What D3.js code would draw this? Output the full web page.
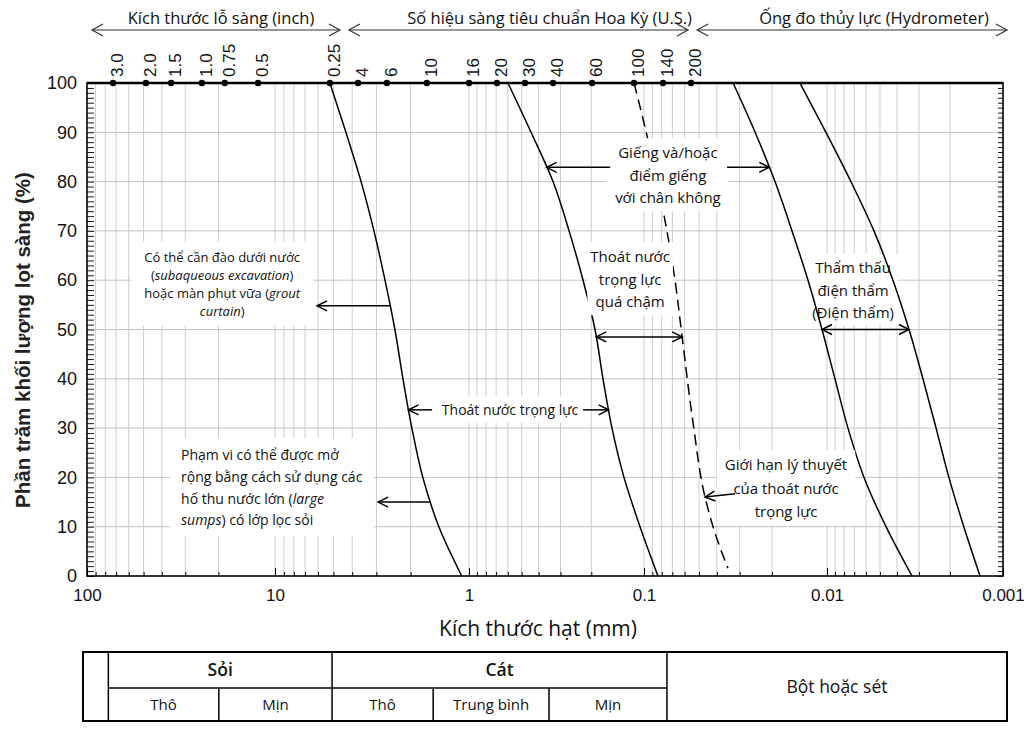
<!DOCTYPE html>
<html>
<head>
<meta charset="utf-8">
<script src="https://cdn.jsdelivr.net/npm/d3@7"></script>
<style>
  body { margin: 0; background: #fff; }
  svg { display: block; }
</style>
</head>
<body>
<div id="chart"></div>
<script>
// ---- data ----
const yTicks = [0, 10, 20, 30, 40, 50, 60, 70, 80, 90, 100];
const xTickValues = [100, 10, 1, 0.1, 0.01, 0.001];
const xTickLabels = ['100', '10', '1', '0.1', '0.01', '0.001'];

// sieve markers on the top edge (label, grain size in mm where the dot sits)
const sieveLabels = ['3.0', '2.0', '1.5', '1.0', '0.75', '0.5', '0.25', '4', '6', '10', '16', '20', '30', '40', '60', '100', '140', '200'];
const sieveMm = [72.7, 48.6, 35.7, 24.5, 18.5, 12.3, 5.21, 3.73, 2.65, 1.65, 1.0, 0.692, 0.479, 0.331, 0.198, 0.114, 0.0787, 0.0553];

// boundary curves: [grain size mm, percent passing]
const curveGravel = [[5.21, 100], [4.31, 90], [3.60, 80], [3.09, 70], [2.71, 60], [2.41, 50], [2.19, 40], [1.97, 30], [1.73, 20], [1.43, 10], [1.09, 0]];
const curveSand = [[0.599, 100], [0.442, 90], [0.331, 80], [0.268, 70], [0.223, 60], [0.1905, 50], [0.1715, 40], [0.1524, 30], [0.1301, 20], [0.1054, 10], [0.0839, 0]];
const curveLimit = [[0.114, 100], [0.101, 92.5], [0.0787, 74.2], [0.0677, 60], [0.0619, 48.5], [0.0539, 31], [0.0464, 16], [0.0409, 8.7], [0.0348, 1.6]];
const curveSilt = [[0.0326, 100], [0.0247, 90], [0.01924, 80], [0.01553, 70], [0.01270, 60], [0.01065, 50], [0.00901, 40], [0.00760, 30], [0.00616, 20], [0.00462, 10], [0.00329, 0]];
const curveClay = [[0.01405, 100], [0.01013, 90], [0.00731, 80], [0.00541, 70], [0.00422, 60], [0.00342, 50], [0.00285, 40], [0.00240, 30], [0.00203, 20], [0.00167, 10], [0.00135, 0]];

// classification table under the chart
const soilGroups = ['Sỏi', 'Cát', 'Bột hoặc sét'];
const groupBounds = [[77, 5.08], [5.08, 0.0749], [0.0749, 0.001]];
const subClasses = ['Thô', 'Mịn', 'Thô', 'Trung bình', 'Mịn'];
const subBounds = [[77, 19.9], [19.9, 5.08], [5.08, 1.53], [1.53, 0.349], [0.349, 0.0749]];

// ---- setup ----
const W = 1024, H = 731;
const svg = d3.select('#chart').append('svg').attr('width', W).attr('height', H);

// log axis: each decade placed where it sits in the picture
const xLog = d3.scaleLinear().domain([2, 1, 0, -1, -2, -3]).range([87, 275, 469, 644, 827, 1003]);
const x = v => xLog(Math.log10(v));
const y = d3.scaleLinear().domain([0, 100]).range([576, 83]);

const AXIS_FONT = "'Liberation Sans', Arial, sans-serif";
const TEXT_FONT = "'Open Sans', 'Noto Sans', sans-serif";

// markers
const defs = svg.append('defs');
function addMarker(id, len, half, sw, color) {
  defs.append('marker')
    .attr('id', id)
    .attr('viewBox', `${-len - 2} ${-half - 2} ${len + 4} ${2 * half + 4}`)
    .attr('refX', 0).attr('refY', 0)
    .attr('markerWidth', len + 4).attr('markerHeight', 2 * half + 4)
    .attr('markerUnits', 'userSpaceOnUse')
    .attr('orient', 'auto-start-reverse')
    .append('path')
    .attr('d', `M${-len},${-half}L0,0L${-len},${half}`)
    .attr('fill', 'none')
    .attr('stroke', color)
    .attr('stroke-width', sw);
}
addMarker('head', 10, 5, 1.5, '#000');
addMarker('hhead', 11, 6, 1.2, '#333');

// ---- grid ----
const minorX = [];
for (let e = -3; e <= 1; e++) {
  for (let k = 1; k <= 9; k++) minorX.push(+(k * Math.pow(10, e)).toPrecision(3));
}
const gridX = minorX.filter(v => v > 0.001 && v < 100);

const grid = svg.append('g');
grid.selectAll('line.vx')
  .data(gridX)
  .enter().append('line')
  .attr('x1', d => x(d)).attr('x2', d => x(d))
  .attr('y1', y(100)).attr('y2', y(0))
  .attr('stroke', '#cdcdcd').attr('stroke-width', 1);
grid.selectAll('line.hy')
  .data(yTicks.filter(d => d > 0 && d < 100))
  .enter().append('line')
  .attr('x1', x(100)).attr('x2', x(0.001))
  .attr('y1', d => y(d)).attr('y2', d => y(d))
  .attr('stroke', '#c4c4c4').attr('stroke-width', 1);

const boxLow = svg.append('g');
const curvesG = svg.append('g');
const boxHigh = svg.append('g');
const arrowG = svg.append('g');
const textG = svg.append('g');

// ---- axes ----
const minorTicksX = svg.append('g')
  .attr('transform', `translate(0,${y(0)})`)
  .call(d3.axisBottom(xLog).tickValues(minorX.map(v => Math.log10(v))).tickSize(-4).tickFormat(''));
minorTicksX.select('.domain').remove();

const axisX = svg.append('g')
  .attr('transform', `translate(0,${y(0)})`)
  .call(d3.axisBottom(xLog)
    .tickValues(xTickValues.map(v => Math.log10(v)))
    .tickSize(-8).tickPadding(13)
    .tickFormat((d, i) => xTickLabels[i]));
axisX.select('.domain').remove();
axisX.selectAll('text').attr('font-size', 17).attr('font-family', AXIS_FONT).attr('fill', '#111');

const percentMinor = d3.range(0, 101, 1);
const leftMinor = svg.append('g')
  .attr('transform', `translate(${x(100)},0)`)
  .call(d3.axisLeft(y).tickValues(percentMinor).tickSize(-7).tickFormat(''));
leftMinor.select('.domain').remove();
leftMinor.selectAll('line').attr('stroke-width', 0.9);

const rightMinor = svg.append('g')
  .attr('transform', `translate(${x(0.001)},0)`)
  .call(d3.axisRight(y).tickValues(percentMinor).tickSize(-5).tickFormat(''));
rightMinor.select('.domain').remove();
rightMinor.selectAll('line').attr('stroke-width', 0.9);

const axisY = svg.append('g')
  .attr('transform', `translate(${x(100)},0)`)
  .call(d3.axisLeft(y).tickValues(yTicks).tickSize(0).tickPadding(10));
axisY.select('.domain').remove();
axisY.selectAll('text').attr('font-size', 18).attr('font-family', AXIS_FONT).attr('fill', '#111');

// frame
svg.append('rect')
  .attr('x', x(100)).attr('y', y(100))
  .attr('width', x(0.001) - x(100)).attr('height', y(0) - y(100))
  .attr('fill', 'none').attr('stroke', '#000').attr('stroke-width', 1.6);
svg.append('line')
  .attr('x1', x(100)).attr('x2', x(0.001))
  .attr('y1', y(100)).attr('y2', y(100))
  .attr('stroke', '#000').attr('stroke-width', 2.6);

// axis titles
svg.append('text')
  .attr('transform', `translate(23,340) rotate(-90)`)
  .attr('text-anchor', 'middle')
  .attr('dy', '0.35em')
  .attr('font-family', AXIS_FONT).attr('font-size', 20.5).attr('font-weight', 'bold')
  .attr('fill', '#222')
  .text('Phần trăm khối lượng lọt sàng (%)');

svg.append('text')
  .attr('x', 538).attr('y', 636)
  .attr('text-anchor', 'middle')
  .attr('font-family', TEXT_FONT).attr('font-size', 21)
  .attr('fill', '#111')
  .text('Kích thước hạt (mm)');

// ---- sieve markers ----
const sieve = svg.append('g');
sieve.selectAll('circle')
  .data(sieveMm)
  .enter().append('circle')
  .attr('cx', d => x(d)).attr('cy', y(100)).attr('r', 3.2)
  .attr('fill', '#000');
sieve.selectAll('text')
  .data(sieveMm)
  .enter().append('text')
  .attr('transform', d => `translate(${x(d) + 4},77) rotate(-90)`)
  .attr('dy', '0.35em')
  .attr('font-family', AXIS_FONT).attr('font-size', 17)
  .attr('fill', '#111')
  .text((d, i) => sieveLabels[i]);

// header ranges
const headers = [
  { label: 'Kích thước lỗ sàng (inch)', x1: x(100) + 5, x2: x(sieveMm[6]) + 10, tx: 221, anchor: 'middle' },
  { label: 'Số hiệu sàng tiêu chuẩn Hoa Kỳ (U.S.)', x1: x(sieveMm[6]) + 19, x2: x(sieveMm[17]) - 3, tx: 692, anchor: 'end' },
  { label: 'Ống đo thủy lực (Hydrometer)', x1: x(sieveMm[17]) + 6, x2: x(0.001) + 4, tx: 989, anchor: 'end' }
];
const hdr = svg.append('g');
hdr.selectAll('line')
  .data(headers)
  .enter().append('line')
  .attr('x1', d => d.x1).attr('x2', d => d.x2)
  .attr('y1', 30).attr('y2', 30)
  .attr('stroke', '#333').attr('stroke-width', 1.1)
  .attr('marker-start', 'url(#hhead)')
  .attr('marker-end', 'url(#hhead)');
hdr.selectAll('text')
  .data(headers)
  .enter().append('text')
  .attr('x', d => d.tx).attr('y', 24)
  .attr('text-anchor', d => d.anchor)
  .attr('font-family', TEXT_FONT).attr('font-size', 16.5)
  .attr('fill', '#111')
  .text(d => d.label);

// ---- curves ----
const line = d3.line()
  .x(d => x(d[0]))
  .y(d => y(d[1]))
  .curve(d3.curveMonotoneY);

const solidCurves = [curveGravel, curveSand, curveSilt, curveClay];
curvesG.selectAll('path.solid')
  .data(solidCurves)
  .enter().append('path')
  .attr('d', line)
  .attr('fill', 'none').attr('stroke', '#000').attr('stroke-width', 1.5);
curvesG.append('path')
  .datum(curveLimit)
  .attr('d', line)
  .attr('fill', 'none').attr('stroke', '#000').attr('stroke-width', 1.5)
  .attr('stroke-dasharray', '11,6');

// size on a curve at a given percent passing
function xAt(curve, p) {
  for (let i = 0; i < curve.length - 1; i++) {
    const [m0, p0] = curve[i], [m1, p1] = curve[i + 1];
    if ((p0 - p) * (p1 - p) <= 0) {
      const t = (p - p0) / (p1 - p0);
      return Math.pow(10, Math.log10(m0) + t * (Math.log10(m1) - Math.log10(m0)));
    }
  }
  return curve[curve.length - 1][0];
}
const pos = (ref, p) => Array.isArray(ref) ? xAt(ref, p) : ref;

// ---- annotations ----
const arrows = [
  { p: 54.8, tail: curveGravel, head: 6.07 },
  { p: 15.0, tail: curveGravel, head: 2.94 },
  { p: 33.7, tail: 1.55, head: curveGravel },
  { p: 33.7, tail: 0.223, head: curveSand },
  { p: 82.9, tail: 0.156, head: curveSand },
  { p: 82.9, tail: 0.0352, head: curveSilt },
  { p: 48.5, tail: curveSand, head: curveLimit, both: true },
  { p: 50.0, tail: curveSilt, head: curveClay, both: true },
  { p: 16.0, tailP: 16.7, tail: 0.0318, head: curveLimit }
];
arrowG.selectAll('line')
  .data(arrows)
  .enter().append('line')
  .attr('x1', d => x(pos(d.tail, d.tailP || d.p)))
  .attr('y1', d => y(d.tailP || d.p))
  .attr('x2', d => x(pos(d.head, d.p)))
  .attr('y2', d => y(d.p))
  .attr('stroke', '#000').attr('stroke-width', 1.5)
  .attr('marker-start', d => d.both ? 'url(#head)' : null)
  .attr('marker-end', 'url(#head)');

// notes: lines are lists of [text, italic]
const notes = [
  { mm: 19.1, p: 64.7, size: 13, lh: 18, anchor: 'middle', padX: 13, padY: 6, layer: 'high',
    lines: [[['Có thể cần đào dưới nước', 0]], [['(', 0], ['subaqueous excavation', 1], [')', 0]],
            [['hoặc màn phụt vữa (', 0], ['grout', 1]], [['curtain', 1], [')', 0]]] },
  { mm: 31.6, p: 24.5, size: 14, lh: 21.7, anchor: 'start', padX: 11, padY: 7, layer: 'high',
    lines: [[['Phạm vi có thể được mở', 0]], [['rộng bằng cách sử dụng các', 0]],
            [['hố thu nước lớn (', 0], ['large', 1]], [['sumps', 1], [') có lớp lọc sỏi', 0]]] },
  { mm: 0.583, p: 33.7, size: 14, lh: 20, anchor: 'middle', padX: 6, padY: 4, layer: 'high',
    lines: [[['Thoát nước trọng lực', 0]]] },
  { mm: 0.0740, p: 85.8, size: 15, lh: 22.5, anchor: 'middle', padX: 8, padY: 4, layer: 'high',
    lines: [[['Giếng và/hoặc', 0]], [['điểm giếng', 0]], [['với chân không', 0]]] },
  { mm: 0.120, p: 64.7, size: 15, lh: 22.5, anchor: 'middle', padX: 3, padY: 4, layer: 'high',
    lines: [[['Thoát nước', 0]], [['trọng lực', 0]], [['quá chậm', 0]]] },
  { mm: 0.00711, p: 62.5, size: 15, lh: 22.5, anchor: 'middle', padX: 4, padY: 3, layer: 'low',
    lines: [[['Thẩm thấu', 0]], [['điện thẩm', 0]], [['(Điện thẩm)', 0]]] },
  { mm: 0.01675, p: 22.5, size: 15, lh: 23.5, anchor: 'middle', padX: 8, padY: 4, layer: 'high',
    lines: [[['Giới hạn lý thuyết', 0]], [['của thoát nước', 0]], [['trọng lực', 0]]] }
];

notes.forEach(n => {
  const g = textG.append('g');
  const t = g.append('text')
    .attr('font-family', TEXT_FONT).attr('font-size', n.size)
    .attr('fill', '#111')
    .attr('text-anchor', n.anchor);
  n.lines.forEach((segs, i) => {
    const row = t.append('tspan')
      .attr('x', x(n.mm))
      .attr('y', y(n.p) + i * n.lh)
      .attr('dy', '0.35em');
    segs.forEach(([s, it]) => {
      row.append('tspan').attr('font-style', it ? 'italic' : null).text(s);
    });
  });
  const b = g.node().getBBox();
  (n.layer === 'low' ? boxLow : boxHigh).append('rect')
    .attr('x', b.x - n.padX).attr('y', b.y - n.padY)
    .attr('width', b.width + 2 * n.padX).attr('height', b.height + 2 * n.padY)
    .attr('fill', '#fff');
});

// ---- classification table ----
const tTop = 652, tMid = 688, tBot = 721;
const tLeft = x(100) - 4, tRight = x(0.001) + 4;
const table = svg.append('g');
table.append('rect')
  .attr('x', tLeft).attr('y', tTop)
  .attr('width', tRight - tLeft).attr('height', tBot - tTop)
  .attr('fill', 'none').attr('stroke', '#000').attr('stroke-width', 2);
table.append('line')
  .attr('x1', x(groupBounds[0][0])).attr('x2', x(groupBounds[2][0]))
  .attr('y1', tMid).attr('y2', tMid)
  .attr('stroke', '#000').attr('stroke-width', 1.5);
table.selectAll('line.g')
  .data([groupBounds[0][0], groupBounds[1][0], groupBounds[2][0]])
  .enter().append('line')
  .attr('x1', d => x(d)).attr('x2', d => x(d))
  .attr('y1', tTop).attr('y2', tBot)
  .attr('stroke', '#000').attr('stroke-width', 1.5);
table.selectAll('line.s')
  .data([subBounds[0][1], subBounds[2][1], subBounds[3][1]])
  .enter().append('line')
  .attr('x1', d => x(d)).attr('x2', d => x(d))
  .attr('y1', tMid).attr('y2', tBot)
  .attr('stroke', '#000').attr('stroke-width', 1.5);

table.selectAll('text.grp')
  .data(soilGroups)
  .enter().append('text')
  .attr('x', (d, i) => i < 2 ? (x(groupBounds[i][0]) + x(groupBounds[i][1])) / 2 : (x(groupBounds[i][0]) + tRight) / 2)
  .attr('y', (d, i) => i < 2 ? (tTop + tMid) / 2 : (tTop + tBot) / 2)
  .attr('dy', '0.35em')
  .attr('text-anchor', 'middle')
  .attr('font-family', TEXT_FONT).attr('font-size', 17.5)
  .attr('font-weight', (d, i) => i < 2 ? 600 : 400)
  .attr('fill', '#111')
  .text(d => d);
table.selectAll('text.sub')
  .data(subClasses)
  .enter().append('text')
  .attr('x', (d, i) => (x(subBounds[i][0]) + x(subBounds[i][1])) / 2)
  .attr('y', (tMid + tBot) / 2)
  .attr('dy', '0.35em')
  .attr('text-anchor', 'middle')
  .attr('font-family', TEXT_FONT).attr('font-size', 15)
  .attr('fill', '#111')
  .text(d => d);
</script>
</body>
</html>
